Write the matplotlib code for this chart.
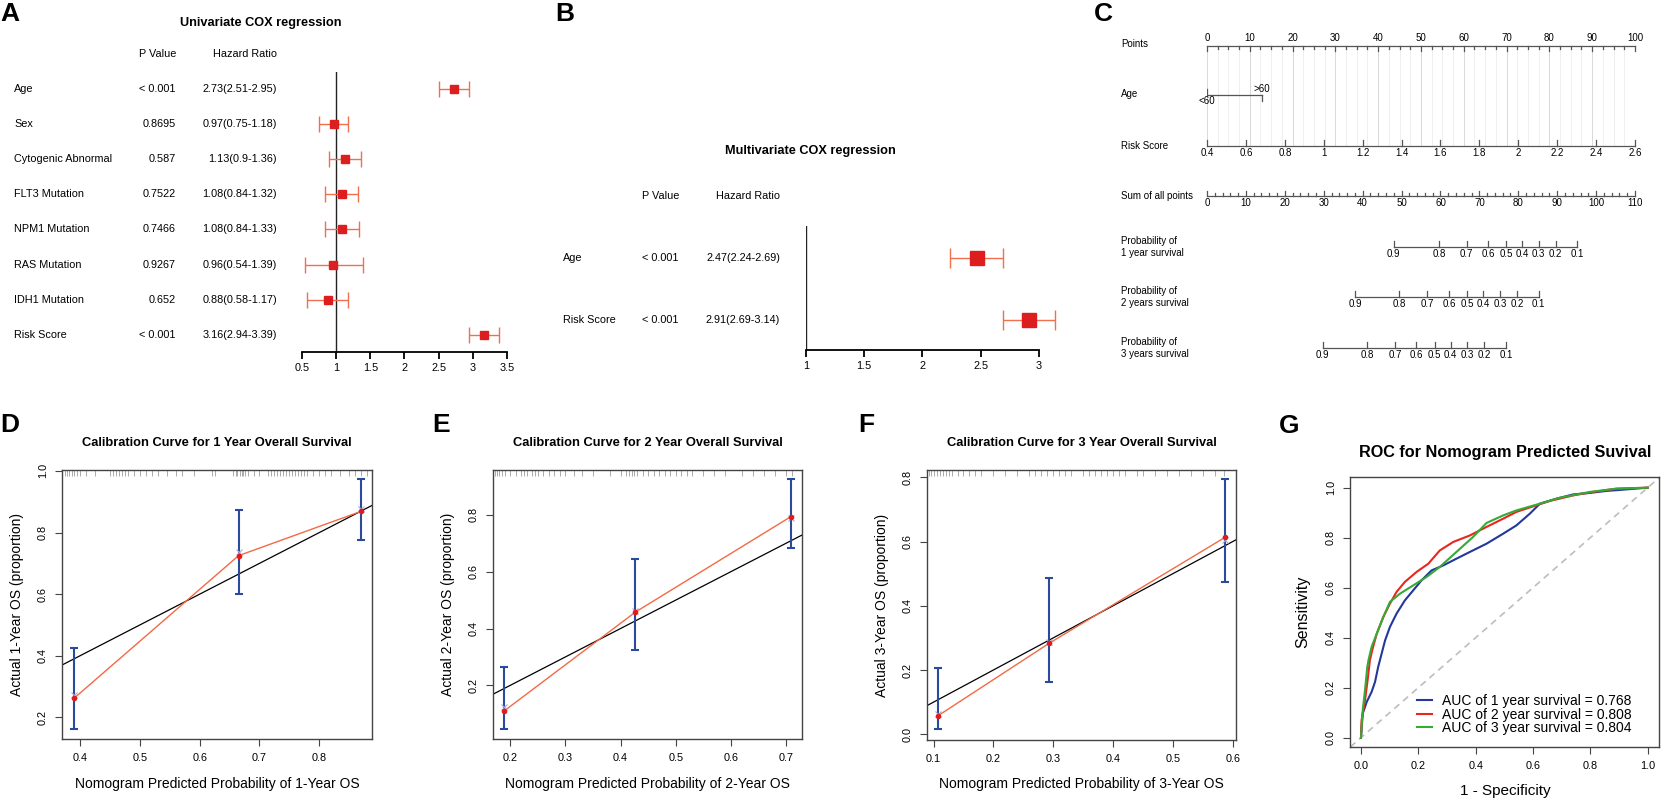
import matplotlib
matplotlib.use("Agg")
import matplotlib.pyplot as plt
import matplotlib.transforms as mtransforms
import numpy as np

plt.rcParams['font.family'] = ['Liberation Sans', 'DejaVu Sans']

W, H = 1665, 801  # output size in pixels

# ------------------------------ data -----------------------------------------
# A: univariate cox
uni_vars = ["Age", "Sex", "Cytogenic Abnormal", "FLT3 Mutation", "NPM1 Mutation",
            "RAS Mutation", "IDH1 Mutation", "Risk Score"]
uni_p = ["< 0.001", "0.8695", "0.587", "0.7522", "0.7466", "0.9267", "0.652", "< 0.001"]
uni_hr = [2.73, 0.97, 1.13, 1.08, 1.08, 0.96, 0.88, 3.16]
uni_lo = [2.51, 0.75, 0.9, 0.84, 0.84, 0.54, 0.58, 2.94]
uni_hi = [2.95, 1.18, 1.36, 1.32, 1.33, 1.39, 1.17, 3.39]

# B: multivariate cox
multi_vars = ["Age", "Risk Score"]
multi_p = ["< 0.001", "< 0.001"]
multi_hr = [2.47, 2.91]
multi_lo = [2.24, 2.69]
multi_hi = [2.69, 3.14]

# C: nomogram
age_levels = ["<60", ">60"]
age_points = [0, 12.8]
risk_ticks = [0.4, 0.6, 0.8, 1.0, 1.2, 1.4, 1.6, 1.8, 2.0, 2.2, 2.4, 2.6]
total_max = 110
prob_labels = [0.9, 0.8, 0.7, 0.6, 0.5, 0.4, 0.3, 0.2, 0.1]
prob1_total = [48.0, 59.6, 66.7, 72.2, 76.8, 81.0, 85.2, 89.6, 95.1]
prob2_total = [38.1, 49.4, 56.6, 62.2, 66.9, 71.0, 75.3, 79.7, 85.2]
prob3_total = [29.7, 41.1, 48.3, 53.8, 58.5, 62.6, 66.9, 71.3, 76.8]

# D-F: calibration
cal1_pred = [0.39, 0.665, 0.87]
cal1_obs = [0.262, 0.725, 0.869]
cal1_lo = [0.162, 0.601, 0.775]
cal1_hi = [0.425, 0.872, 0.973]
cal1_corr = [0.272, 0.738, 0.876]
cal1_rug = [0.375, 0.378, 0.382, 0.386, 0.39, 0.395, 0.40, 0.41, 0.425, 0.45, 0.455, 0.46,
            0.465, 0.47, 0.475, 0.48, 0.49, 0.50, 0.51, 0.52, 0.53, 0.545, 0.56, 0.57, 0.59,
            0.62, 0.625, 0.655, 0.66, 0.663, 0.667, 0.67, 0.672, 0.675, 0.68, 0.69, 0.70,
            0.715, 0.72, 0.725, 0.73, 0.735, 0.74, 0.745, 0.75, 0.755, 0.76, 0.765, 0.77,
            0.775, 0.78, 0.79, 0.80, 0.81, 0.82, 0.835, 0.85, 0.86, 0.87, 0.88]

cal2_pred = [0.189, 0.427, 0.709]
cal2_obs = [0.110, 0.458, 0.794]
cal2_lo = [0.046, 0.325, 0.685]
cal2_hi = [0.264, 0.645, 0.925]
cal2_corr = [0.125, 0.462, 0.788]
cal2_rug = [0.172, 0.175, 0.18, 0.185, 0.19, 0.20, 0.21, 0.22, 0.225, 0.23, 0.24, 0.245,
            0.25, 0.26, 0.27, 0.28, 0.29, 0.30, 0.315, 0.33, 0.35, 0.38, 0.40, 0.41, 0.415,
            0.42, 0.425, 0.43, 0.44, 0.45, 0.46, 0.47, 0.48, 0.49, 0.50, 0.51, 0.52, 0.53,
            0.55, 0.57, 0.59, 0.62, 0.64, 0.66, 0.68, 0.70, 0.71]

cal3_pred = [0.107, 0.293, 0.587]
cal3_obs = [0.057, 0.283, 0.613]
cal3_lo = [0.016, 0.163, 0.475]
cal3_hi = [0.205, 0.488, 0.794]
cal3_corr = [0.062, 0.287, 0.606]
cal3_rug = [0.092, 0.095, 0.10, 0.105, 0.11, 0.115, 0.12, 0.125, 0.13, 0.14, 0.15, 0.16,
            0.17, 0.18, 0.20, 0.22, 0.24, 0.26, 0.27, 0.28, 0.29, 0.30, 0.31, 0.32, 0.33,
            0.35, 0.36, 0.37, 0.38, 0.39, 0.40, 0.41, 0.42, 0.44, 0.45, 0.47, 0.49, 0.51,
            0.53, 0.55, 0.57, 0.585]

# G: ROC curves
roc1_fpr = [0, 0.006, 0.02, 0.037, 0.049, 0.06, 0.072, 0.084, 0.101, 0.124, 0.153, 0.182,
            0.211, 0.246, 0.287, 0.333, 0.380, 0.438, 0.496, 0.542, 0.589, 0.624, 0.682,
            0.74, 0.798, 0.856, 0.914, 1.0]
roc1_tpr = [0, 0.096, 0.143, 0.183, 0.223, 0.283, 0.336, 0.389, 0.443, 0.496, 0.549, 0.589,
            0.629, 0.669, 0.689, 0.716, 0.743, 0.776, 0.816, 0.849, 0.896, 0.936, 0.956,
            0.973, 0.979, 0.987, 0.992, 1.0]
roc2_fpr = [0, 0.002, 0.014, 0.023, 0.031, 0.039, 0.055, 0.078, 0.101, 0.124, 0.153, 0.194,
            0.235, 0.275, 0.322, 0.380, 0.438, 0.496, 0.542, 0.600, 0.659, 0.740, 0.81,
            0.891, 1.0]
roc2_tpr = [0, 0.069, 0.149, 0.229, 0.309, 0.349, 0.416, 0.483, 0.536, 0.583, 0.623, 0.663,
            0.696, 0.749, 0.783, 0.809, 0.843, 0.876, 0.903, 0.925, 0.947, 0.969, 0.983,
            0.996, 1.0]
roc3_fpr = [0, 0.006, 0.014, 0.022, 0.026, 0.037, 0.055, 0.078, 0.101, 0.136, 0.182, 0.229,
            0.275, 0.333, 0.391, 0.438, 0.496, 0.542, 0.624, 0.694, 0.798, 0.891, 1.0]
roc3_tpr = [0, 0.109, 0.189, 0.283, 0.309, 0.363, 0.416, 0.483, 0.543, 0.576, 0.609, 0.643,
            0.683, 0.743, 0.803, 0.859, 0.889, 0.909, 0.936, 0.96, 0.983, 0.996, 1.0]
roc_auc = [0.768, 0.808, 0.804]

# ------------------------------ helpers --------------------------------------
fig = plt.figure(figsize=(W / 100, H / 100), dpi=100)


def add_ax(x0, y0, x1, y1):  # axes box given in pixels from the top-left corner
    return fig.add_axes([x0 / W, 1 - y1 / H, (x1 - x0) / W, (y1 - y0) / H])


def fx(px):
    return px / W


def fy(py):
    return 1 - py / H


def letter(px, py, s):
    fig.text(fx(px), fy(py), s, fontsize=19, weight='bold', ha='left', va='center')


SQ_RED = '#DC1E1E'
BAR_ORANGE = '#F0704E'


def draw_forest(box, xlim, row0, drow, names, pvals, hr, lo, hi,
                name_x, p_x, hr_x, head_y, title, title_xy, msize, capsize):
    x0, y0, x1, y1 = box
    ax = add_ax(*box)
    hr, lo, hi = np.array(hr), np.array(lo), np.array(hi)
    rows = np.arange(len(names))
    ax.set_xlim(*xlim)
    ax.set_ylim((y1 - row0) / drow, (y0 - row0) / drow)
    ax.axvline(1, color='#222222', lw=1)
    ax.errorbar(hr, rows, xerr=[hr - lo, hi - hr], fmt='none', ecolor=BAR_ORANGE,
                elinewidth=1, capsize=capsize, capthick=1, clip_on=False)
    ax.plot(hr, rows, 's', ms=msize, color=SQ_RED, mec=SQ_RED, zorder=3, clip_on=False)
    for s in ['top', 'left', 'right']:
        ax.spines[s].set_visible(False)
    ax.spines['bottom'].set_bounds(*xlim)
    ax.spines['bottom'].set_linewidth(1.3)
    ticks = np.arange(xlim[0], xlim[1] + 1e-9, 0.5)
    ax.set_xticks(ticks)
    ax.set_xticklabels([f"{t:g}" for t in ticks])
    ax.tick_params(axis='x', length=5, width=1.3, labelsize=7.8, pad=3)
    ax.set_yticks([])
    ax.patch.set_visible(False)

    tr = mtransforms.blended_transform_factory(fig.transFigure, ax.transData)
    for i in rows:
        ax.text(fx(name_x), i, names[i], transform=tr, ha='left', va='center', fontsize=7.8)
        ax.text(fx(p_x), i, pvals[i], transform=tr, ha='right', va='center', fontsize=7.8)
        ax.text(fx(hr_x), i, f"{hr[i]:g}({lo[i]:g}-{hi[i]:g})", transform=tr,
                ha='right', va='center', fontsize=7.8)
    fig.text(fx(p_x), fy(head_y), "P Value", ha='right', va='center', fontsize=7.8)
    fig.text(fx(hr_x), fy(head_y), "Hazard Ratio", ha='right', va='center', fontsize=7.8)
    fig.text(fx(title_xy[0]), fy(title_xy[1]), title, ha='center', va='center',
             fontsize=9.2, weight='bold')


def draw_calib(box, xlim, ylim, xticks, yticks, pred, obs, lo, hi, corr, rug, year):
    x0, y0, x1, y1 = box
    ax = add_ax(*box)
    pred, obs, lo, hi = map(np.array, (pred, obs, lo, hi))
    ax.set_xlim(*xlim)
    ax.set_ylim(*ylim)
    ax.axline((0, 0), (1, 1), color='black', lw=0.9)
    ax.plot(pred, obs, color='#F26A43', lw=1)
    ax.errorbar(pred, obs, yerr=[obs - lo, hi - obs], fmt='none', ecolor='#2A4B9B',
                elinewidth=1.5, capsize=3, capthick=1.5)
    ax.plot(pred, corr, 'x', color='#A9A9D9', ms=4, mew=0.8)
    ax.plot(pred, obs, 'o', color='#E31A1C', ms=3)
    ax.vlines(rug, 0.978, 1.0, transform=ax.get_xaxis_transform(), color='#888888', lw=0.5)
    ax.set_xticks(xticks)
    ax.set_xticklabels([f"{t:.1f}" for t in xticks])
    ax.set_yticks(yticks)
    ax.set_yticklabels([f"{t:.1f}" for t in yticks], rotation=90, va='center')
    ax.tick_params(length=5, width=0.8, labelsize=7.8, pad=5, color='#444444')
    for s in ax.spines.values():
        s.set_color('#444444')
        s.set_linewidth(1)
    cx = (x0 + x1) / 2
    fig.text(fx(cx), fy(443), f"Calibration Curve for {year} Year Overall Survival",
             ha='center', va='center', fontsize=9.3, weight='bold')
    fig.text(fx(cx), fy(784), f"Nomogram Predicted Probability of {year}-Year OS",
             ha='center', va='center', fontsize=10)
    fig.text(fx(x0 - 45), fy((y0 + y1) / 2), f"Actual {year}-Year OS (proportion)",
             ha='center', va='center', rotation=90, fontsize=10)


# ------------------------------ A / B: forest plots ---------------------------
letter(0, 14, "A")
draw_forest((302, 72, 507, 352), (0.5, 3.5), 89, 35.1, uni_vars, uni_p,
            uni_hr, uni_lo, uni_hi, 14, 176, 277, 54,
            "Univariate COX regression", (261, 23), 5.5, 5.5)

letter(555, 14, "B")
draw_forest((806, 226, 1039, 350), (1.0, 3.0), 258, 62, multi_vars, multi_p,
            multi_hr, multi_lo, multi_hi, 563, 679, 780, 196,
            "Multivariate COX regression", (810, 151), 9.5, 7)

# ------------------------------ C: nomogram ------------------------------------
letter(1094, 14, "C")
axn = add_ax(1207, 0, 1635, H)
axn.set_xlim(0, 100)
axn.set_ylim(H, 0)
axn.axis('off')
trn = mtransforms.blended_transform_factory(fig.transFigure, axn.transData)
LC = '#555555'
fs_n = 7


def row_label(y, s):
    axn.text(fx(1121), y, s, transform=trn, ha='left', va='center', fontsize=fs_n,
             linespacing=1.3)


# light grid from Points down to Risk Score
for p in np.arange(0, 100.01, 2.5):
    col = '#D2D2D2' if p % 10 == 0 else '#ECECEC'
    axn.plot([p, p], [46, 146], color=col, lw=0.6, zorder=0)

# Points
row_label(44, "Points")
axn.plot([0, 100], [46, 46], color=LC, lw=0.9, clip_on=False)
for p in np.arange(0, 100.01, 2.5):
    ln = 5 if p % 10 == 0 else 3
    axn.plot([p, p], [46, 46 + ln], color=LC, lw=0.9, clip_on=False)
for p in range(0, 101, 10):
    axn.text(p, 38, str(p), ha='center', va='center', fontsize=fs_n, clip_on=False)

# Age
row_label(94, "Age")
axn.plot([age_points[0], age_points[1]], [95, 95], color=LC, lw=0.9)
axn.plot([age_points[0], age_points[0]], [89, 95], color=LC, lw=0.9)
axn.plot([age_points[1], age_points[1]], [95, 101], color=LC, lw=0.9)
axn.text(age_points[0], 101, age_levels[0], ha='center', va='center', fontsize=fs_n)
axn.text(age_points[1], 89, age_levels[1], ha='center', va='center', fontsize=fs_n)

# Risk Score
row_label(146, "Risk Score")
risk_pts = [(r - risk_ticks[0]) / (risk_ticks[-1] - risk_ticks[0]) * 100 for r in risk_ticks]
axn.plot([0, 100], [146, 146], color=LC, lw=0.9, clip_on=False)
for r, p in zip(risk_ticks, risk_pts):
    axn.plot([p, p], [140, 146], color=LC, lw=0.9, clip_on=False)
    axn.text(p, 153, f"{r:g}", ha='center', va='center', fontsize=fs_n, clip_on=False)

# Sum of all points
row_label(196, "Sum of all points")
axn.plot([0, 100], [196, 196], color=LC, lw=0.9, clip_on=False)
for t in range(0, total_max + 1, 2):
    p = t * 100 / total_max
    ln = 5 if t % 10 == 0 else 3
    axn.plot([p, p], [196 - ln, 196], color=LC, lw=0.9, clip_on=False)
for t in range(0, total_max + 1, 10):
    axn.text(t * 100 / total_max, 203, str(t), ha='center', va='center', fontsize=fs_n,
             clip_on=False)

# survival probabilities
for y, yr, tot in [(247, "1 year", prob1_total), (297, "2 years", prob2_total),
                   (348, "3 years", prob3_total)]:
    row_label(y, f"Probability of\n{yr} survival")
    xs = [t * 100 / total_max for t in tot]
    axn.plot([xs[0], xs[-1]], [y, y], color=LC, lw=0.9)
    for lab, x in zip(prob_labels, xs):
        axn.plot([x, x], [y - 6, y], color=LC, lw=0.9)
        axn.text(x, y + 7, f"{lab:g}", ha='center', va='center', fontsize=fs_n)

# ------------------------------ D / E / F: calibration ------------------------
letter(0, 425, "D")
draw_calib((62, 470, 372, 739), (0.370, 0.888), (0.13, 1.003),
           [0.4, 0.5, 0.6, 0.7, 0.8], [0.2, 0.4, 0.6, 0.8, 1.0],
           cal1_pred, cal1_obs, cal1_lo, cal1_hi, cal1_corr, cal1_rug, 1)

letter(432, 425, "E")
draw_calib((493, 470, 802, 739), (0.1686, 0.729), (0.011, 0.958),
           [0.2, 0.3, 0.4, 0.5, 0.6, 0.7], [0.2, 0.4, 0.6, 0.8],
           cal2_pred, cal2_obs, cal2_lo, cal2_hi, cal2_corr, cal2_rug, 2)

letter(858, 425, "F")
draw_calib((927, 470, 1236, 740), (0.089, 0.6056), (-0.018, 0.823),
           [0.1, 0.2, 0.3, 0.4, 0.5, 0.6], [0.0, 0.2, 0.4, 0.6, 0.8],
           cal3_pred, cal3_obs, cal3_lo, cal3_hi, cal3_corr, cal3_rug, 3)

# ------------------------------ G: ROC ----------------------------------------
letter(1279, 426, "G")
axr = add_ax(1350, 477, 1659, 747)
axr.set_xlim(-0.0383, 1.0395)
axr.set_ylim(-0.0373, 1.0427)
axr.axline((0, 0), (1, 1), color='#BDBDBD', lw=1.2, ls=(0, (4, 3)))
roc_cols = ['#22389A', '#E8251F', '#36A936']
for fpr, tpr, col, yr, auc in zip([roc1_fpr, roc2_fpr, roc3_fpr], [roc1_tpr, roc2_tpr, roc3_tpr],
                                  roc_cols, [1, 2, 3], roc_auc):
    axr.plot(fpr, tpr, color=col, lw=1.5, label=f"AUC of {yr} year survival = {auc:.3f}")
ticks = [0.0, 0.2, 0.4, 0.6, 0.8, 1.0]
axr.set_xticks(ticks)
axr.set_xticklabels([f"{t:.1f}" for t in ticks])
axr.set_yticks(ticks)
axr.set_yticklabels([f"{t:.1f}" for t in ticks], rotation=90, va='center')
axr.tick_params(length=5, width=0.8, labelsize=7.8, pad=5, color='#444444')
for s in axr.spines.values():
    s.set_color('#444444')
    s.set_linewidth(1)
axr.legend(loc='upper left', bbox_to_anchor=(fx(1417), fy(694)), bbox_transform=fig.transFigure,
           frameon=False, fontsize=10, handlelength=1.1, handletextpad=0.7,
           labelspacing=-0.03, borderpad=0, borderaxespad=0)
fig.text(fx(1505), fy(452), "ROC for Nomogram Predicted Suvival", ha='center', va='center',
         fontsize=11.7, weight='bold')
fig.text(fx(1505), fy(791), "1 - Specificity", ha='center', va='center', fontsize=11)
fig.text(fx(1303), fy(612), "Sensitivity", ha='center', va='center', rotation=90, fontsize=11.5)

fig.savefig("out.png", dpi=100)
